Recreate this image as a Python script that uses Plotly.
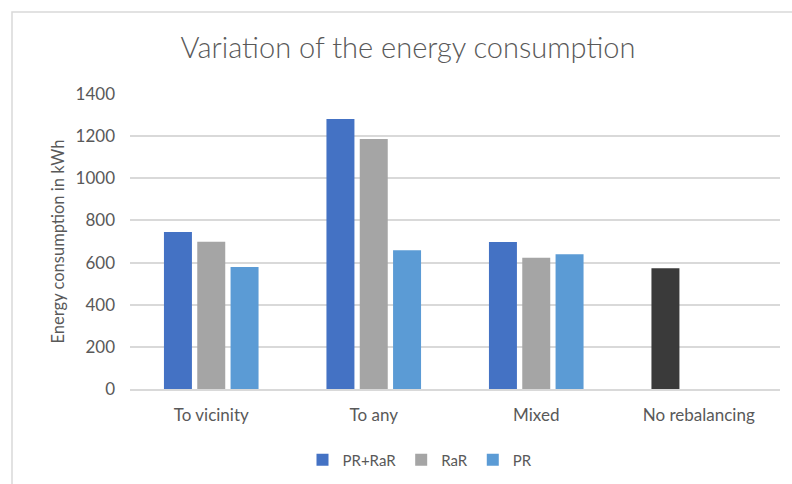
import plotly.graph_objects as go

categories = ["To vicinity", "To any", "Mixed", "No rebalancing"]
pr_rar = [745, 1281, 698, 573]
rar = [699, 1186, 623, None]
pr = [579, 658, 639, None]

series_names = ["PR+RaR", "RaR", "PR"]
series_colors = ["#4472C4", "#A5A5A5", "#5B9BD5"]
no_rebalancing_color = "#3A3A3A"

y_ticks = [0, 200, 400, 600, 800, 1000, 1200, 1400]

text_color = "#595959"
grid_color = "#D9D9D9"
font_family = "Lato, Open Sans, sans-serif"

# first series: the "No rebalancing" bar is shown in a dark shade
first_colors = [series_colors[0]] * (len(categories) - 1) + [no_rebalancing_color]

fig = go.Figure()
fig.add_trace(go.Bar(name=series_names[0], x=categories, y=pr_rar,
                     marker=dict(color=first_colors, line=dict(width=0))))
fig.add_trace(go.Bar(name=series_names[1], x=categories, y=rar,
                     marker=dict(color=series_colors[1], line=dict(width=0))))
fig.add_trace(go.Bar(name=series_names[2], x=categories, y=pr,
                     marker=dict(color=series_colors[2], line=dict(width=0))))

fig.update_layout(
    width=792, height=484,
    margin=dict(l=130, r=12, t=94, b=95),
    paper_bgcolor="white", plot_bgcolor="white",
    font=dict(family=font_family, color=text_color, size=16),
    title=dict(text="Variation of the energy consumption",
               x=408 / 792, xanchor="center", xref="container",
               y=1 - 48 / 484, yanchor="middle", yref="container",
               font=dict(size=29, color=text_color, family=font_family, weight=300)),
    barmode="group", bargap=0.385, bargroupgap=0.16,
    showlegend=True,
    legend=dict(orientation="h", x=420 / 792, xanchor="center", xref="container",
                y=1 - 460 / 484, yanchor="middle", yref="container",
                font=dict(size=15, color=text_color), itemwidth=30,
                traceorder="normal"),
    shapes=[dict(type="rect", xref="paper", yref="paper",
                 x0=(12 - 130) / 650, x1=1.2, y0=-0.5, y1=1 + (94 - 12) / 295,
                 line=dict(color=grid_color, width=1.5), fillcolor="rgba(0,0,0,0)",
                 layer="below")],
)

fig.update_xaxes(showgrid=False, showline=True, linecolor=grid_color, linewidth=1.5,
                 ticks="", ticklabelstandoff=10,
                 tickfont=dict(size=17, color=text_color))
fig.update_yaxes(range=[0, 1400], tickvals=y_ticks, showgrid=True, gridcolor=grid_color,
                 gridwidth=1.5, zeroline=False, showline=False, ticks="",
                 ticklabelstandoff=14, tickfont=dict(size=17, color=text_color),
                 title=dict(text="Energy consumption in kWh", standoff=6,
                            font=dict(size=16.5, color=text_color)))

fig.write_html("out.html")
